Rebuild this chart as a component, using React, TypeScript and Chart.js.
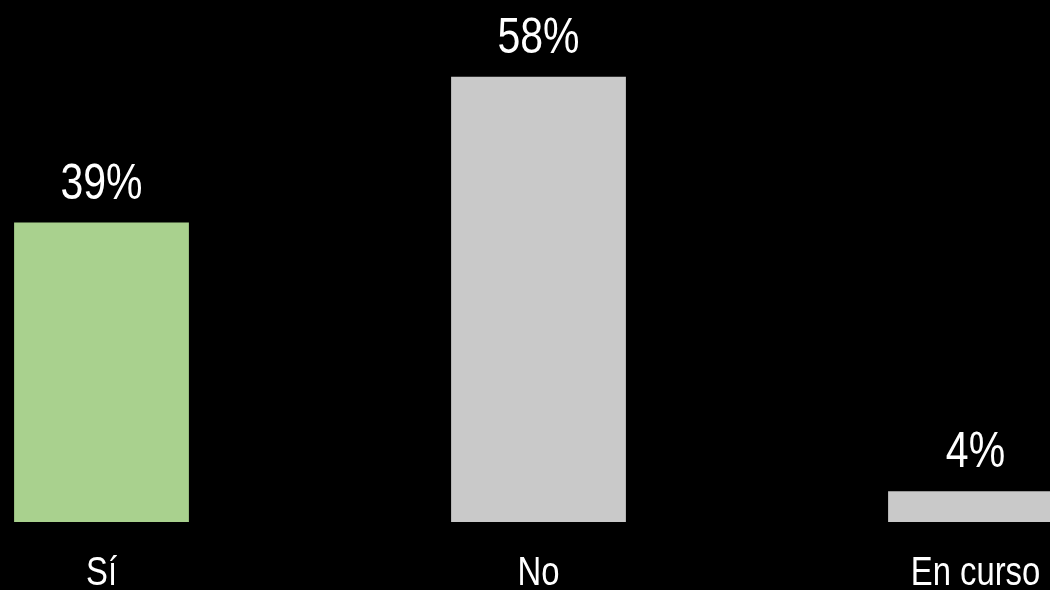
import React, { useEffect, useRef } from "react";
import { Chart, registerables } from "chart.js";

Chart.register(...registerables);

const categories: string[] = ["Sí", "No", "En curso"];
const values: number[] = [39, 58, 4];
const valueLabels: string[] = ["39%", "58%", "4%"];
const barColors: string[] = ["#a9d18e", "#c9c9c9", "#c9c9c9"];

const FONT = "'Liberation Sans', Arial, sans-serif";

const labelPlugin = {
  id: "customLabels",
  afterDatasetsDraw(chart: any) {
    const ctx = chart.ctx;
    const meta = chart.getDatasetMeta(0);
    const xScale = chart.scales.x;
    ctx.save();
    ctx.fillStyle = "#ffffff";
    ctx.textAlign = "center";
    ctx.textBaseline = "alphabetic";
    // value labels above bars (narrow face)
    ctx.font = `50px ${FONT}`;
    meta.data.forEach((bar: any, i: number) => {
      ctx.save();
      ctx.translate(bar.x, bar.y - 24);
      ctx.scale(0.82, 1);
      ctx.fillText(valueLabels[i], 0, 0);
      ctx.restore();
    });
    // category labels (narrow face)
    ctx.font = `40px ${FONT}`;
    categories.forEach((label: string, i: number) => {
      const x = xScale.getPixelForTick(i);
      ctx.save();
      ctx.translate(x, xScale.bottom - 5);
      ctx.scale(0.82, 1);
      ctx.fillText(label, 0, 0);
      ctx.restore();
    });
    ctx.restore();
  },
};

export default function App() {
  const canvasRef = useRef<HTMLCanvasElement | null>(null);

  useEffect(() => {
    document.body.style.margin = "0";
    document.body.style.background = "#000";
    const canvas = canvasRef.current;
    if (!canvas) return;
    const chart = new Chart(canvas, {
      type: "bar",
      data: {
        labels: categories,
        datasets: [
          {
            data: values,
            backgroundColor: barColors,
            borderWidth: 0,
            categoryPercentage: 1,
            barPercentage: 0.4,
          },
        ],
      },
      options: {
        responsive: false,
        animation: false,
        layout: { padding: 0 },
        plugins: {
          legend: { display: false },
          tooltip: { enabled: false },
          title: { display: false },
        },
        scales: {
          x: {
            grid: { display: false, drawTicks: false },
            border: { display: false },
            ticks: { display: false },
            afterFit: (scale: any) => {
              scale.height = 68;
            },
          },
          y: {
            display: false,
            min: 0,
            max: 68,
          },
        },
      },
      plugins: [labelPlugin],
    });
    return () => chart.destroy();
  }, []);

  return (
    <div
      style={{
        position: "fixed",
        left: 0,
        top: 0,
        width: 1050,
        height: 590,
        overflow: "hidden",
        background: "#000",
      }}
    >
      <div style={{ position: "absolute", left: -117, top: 0, width: 1311, height: 590 }}>
        <canvas ref={canvasRef} width={1311} height={590} style={{ display: "block" }} />
      </div>
    </div>
  );
}
